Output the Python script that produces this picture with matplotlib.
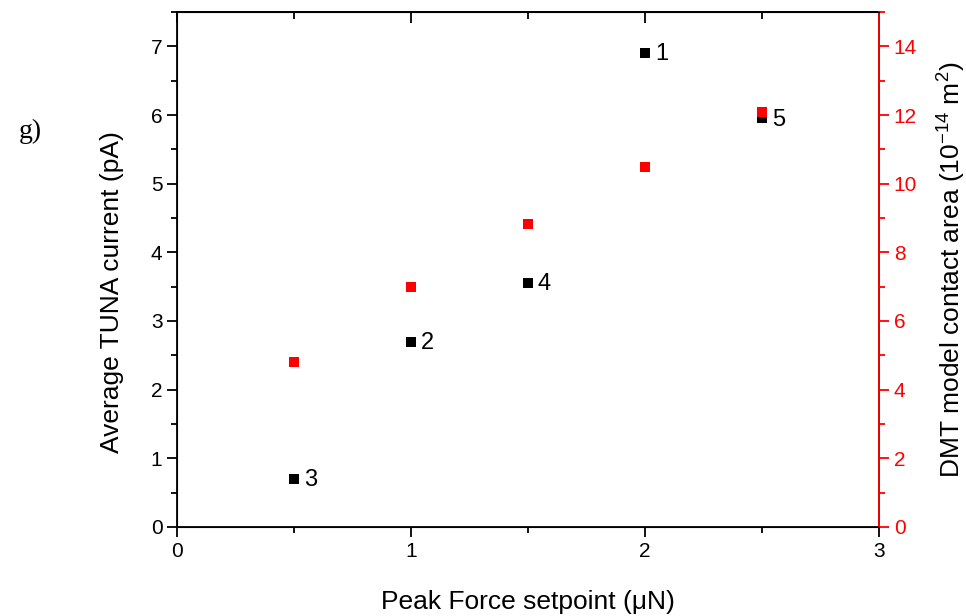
import matplotlib.pyplot as plt
from matplotlib.ticker import MultipleLocator

# data
force = [0.5, 1.0, 1.5, 2.0, 2.5]           # Peak Force setpoint (uN)
current = [0.70, 2.70, 3.56, 6.91, 5.95]    # Average TUNA current (pA)
area = [4.82, 6.98, 8.83, 10.5, 12.08]      # DMT contact area (1e-14 m^2)
point_labels = ["3", "2", "4", "1", "5"]

plt.rcParams['font.family'] = ['Liberation Sans', 'DejaVu Sans']
plt.rcParams['mathtext.fontset'] = 'custom'
plt.rcParams['mathtext.rm'] = 'Liberation Sans'

fig = plt.figure(figsize=(9.66, 6.16), dpi=100)
ax = fig.add_axes([0.1832, 0.1445, 0.7268, 0.836])

ax.plot(force, current, 's', color='black', ms=7.5, mew=0)
for x, y, t in zip(force, current, point_labels):
    ax.annotate(t, (x, y), xytext=(7, -1), textcoords='offset points',
                va='center', ha='left', fontsize=17)

ax.set_xlim(0, 3)
ax.set_ylim(0, 7.5)
ax.xaxis.set_major_locator(MultipleLocator(1))
ax.xaxis.set_minor_locator(MultipleLocator(0.5))
ax.yaxis.set_major_locator(MultipleLocator(1))
ax.yaxis.set_minor_locator(MultipleLocator(0.5))
ax.tick_params(which='major', direction='out', length=7, width=1.3, labelsize=15)
ax.tick_params(which='minor', direction='out', length=4, width=1.3)
for s in ax.spines.values():
    s.set_linewidth(1.3)
ax.set_xlabel("Peak Force setpoint (μN)", fontsize=19, labelpad=21)
ax.set_ylabel("Average TUNA current (pA)", fontsize=19, labelpad=19)
ax.yaxis.label.set_y(0.456)

top = ax.secondary_xaxis('top')
top.xaxis.set_major_locator(MultipleLocator(1))
top.xaxis.set_minor_locator(MultipleLocator(0.5))
top.tick_params(which='major', direction='in', length=8, width=1.3, labeltop=False)
top.tick_params(which='minor', direction='in', length=5, width=1.3)
top.spines['top'].set_linewidth(1.3)

ax2 = ax.twinx()
ax2.plot(force, area, 's', color='red', ms=7.5, mew=0)
ax2.set_ylim(0, 15)
ax2.yaxis.set_major_locator(MultipleLocator(2))
ax2.yaxis.set_minor_locator(MultipleLocator(1))
ax2.spines['right'].set_color('red')
ax2.spines['right'].set_linewidth(1.3)
ax2.tick_params(axis='y', which='major', colors='red', direction='out',
                length=7, width=1.3, labelsize=15)
ax2.tick_params(axis='y', which='minor', colors='red', direction='out',
                length=4, width=1.3)
ax2.set_ylabel(r"DMT model contact area (10$^{\mathregular{-14}}$ m$^{\mathregular{2}}$)",
               fontsize=19, labelpad=12)

fig.text(0.019, 0.776, "g)", family='Liberation Serif', fontsize=20)

fig.savefig("out.png", dpi=100)
